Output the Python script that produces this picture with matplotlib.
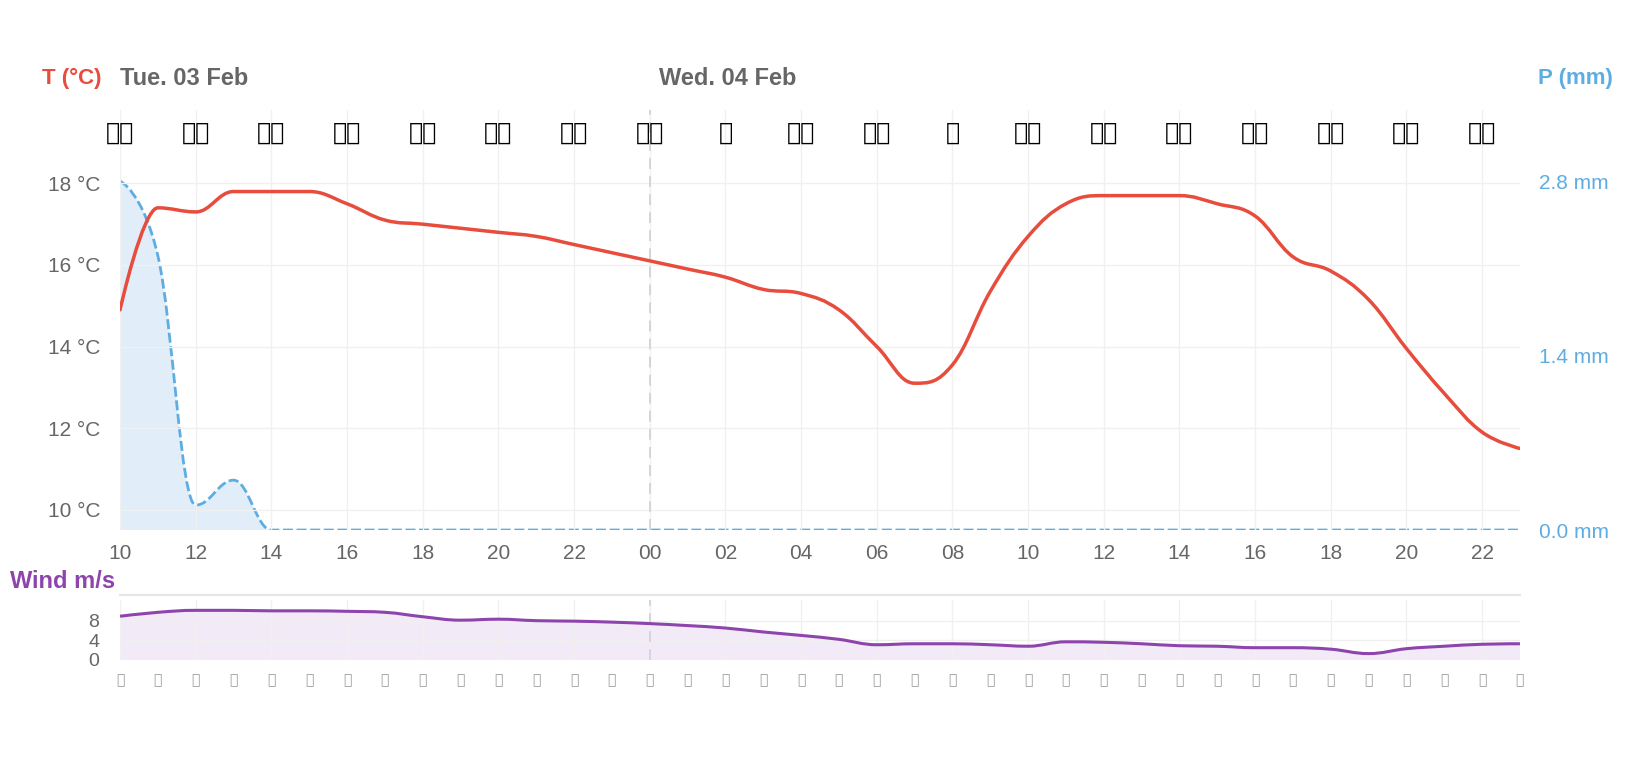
import numpy as np
import matplotlib.pyplot as plt
import matplotlib.transforms as mtransforms
from matplotlib.path import Path
from matplotlib.patches import PathPatch

plt.rcParams['font.family'] = ['Liberation Sans', 'DejaVu Sans']

# hourly data, Tue 10:00 -> Wed 23:00
hours = list(range(10, 24)) + list(range(0, 24))
temperature = [14.9, 17.4, 17.3, 17.8, 17.8, 17.8, 17.5, 17.1, 17.0, 16.9, 16.8, 16.7, 16.5, 16.3,
               16.1, 15.9, 15.7, 15.4, 15.3, 14.9, 14.0, 13.1, 13.55, 15.35, 16.7, 17.5, 17.7, 17.7,
               17.7, 17.5, 17.2, 16.2, 15.85, 15.15, 13.95, 12.85, 11.9, 11.5]
precipitation = [2.8, 2.2, 0.2, 0.4, 0.0, 0.0, 0.0, 0.0, 0.0, 0.0, 0.0, 0.0, 0.0, 0.0,
                 0.0, 0.0, 0.0, 0.0, 0.0, 0.0, 0.0, 0.0, 0.0, 0.0, 0.0, 0.0, 0.0, 0.0,
                 0.0, 0.0, 0.0, 0.0, 0.0, 0.0, 0.0, 0.0, 0.0, 0.0]
wind_speed = [8.9, 9.7, 10.1, 10.1, 10.0, 10.0, 9.9, 9.7, 8.8, 8.1, 8.3, 8.0, 7.9, 7.7,
              7.4, 7.0, 6.5, 5.7, 5.0, 4.2, 3.1, 3.3, 3.3, 3.1, 2.8, 3.7, 3.6, 3.3,
              2.9, 2.8, 2.5, 2.5, 2.2, 1.3, 2.3, 2.8, 3.2, 3.3]
# weather symbols every 2 hours (emoji, no installed font has them)
weather_icons = ['🌧🌧', '🌦🌧', '🌦🌧', '⛅🌦', '🌥🌥', '🌥🌥', '🌥🌥', '🌥🌥', '🌙', '🌥🌥',
                 '🌥🌥', '🌙', '🌤🌤', '🌤🌤', '🌤🌤', '🌤🌤', '🌥🌥', '🌥🌥', '🌥🌥']
# wind direction arrows, one per hour
wind_dirs = ['🡓'] * 38
day_labels = ['Tue. 03 Feb', 'Wed. 04 Feb']
day_starts = [0, 14]

x = np.arange(len(hours))

RED = '#E74C3C'
BLUE = '#5DADE2'
PURPLE = '#8E44AD'
GRID = '#f0f0f0'
LABEL = '#666666'


def spline_path(xs, ys, base=None, smoothing=1.5):
    # highcharts-like spline, drawn as cubic bezier segments
    n = len(xs)
    left, right = [None] * n, [None] * n
    for i in range(n):
        px, py = xs[i], ys[i]
        if i == 0 or i == n - 1:
            left[i] = right[i] = (px, py)
            continue
        lx, ly = xs[i - 1], ys[i - 1]
        nx, ny = xs[i + 1], ys[i + 1]
        d = smoothing + 1
        lcx, lcy = (smoothing * px + lx) / d, (smoothing * py + ly) / d
        rcx, rcy = (smoothing * px + nx) / d, (smoothing * py + ny) / d
        corr = (rcy - lcy) * (rcx - px) / (rcx - lcx) + py - rcy
        lcy += corr
        rcy += corr
        if lcy > ly and lcy > py:
            lcy = max(ly, py); rcy = 2 * py - lcy
        elif lcy < ly and lcy < py:
            lcy = min(ly, py); rcy = 2 * py - lcy
        if rcy > ny and rcy > py:
            rcy = max(ny, py); lcy = 2 * py - rcy
        elif rcy < ny and rcy < py:
            rcy = min(ny, py); lcy = 2 * py - rcy
        left[i], right[i] = (lcx, lcy), (rcx, rcy)
    verts = [(xs[0], ys[0])]
    codes = [Path.MOVETO]
    for i in range(1, n):
        verts += [right[i - 1], left[i], (xs[i], ys[i])]
        codes += [Path.CURVE4] * 3
    if base is not None:
        verts += [(xs[-1], base), (xs[0], base), (xs[0], ys[0])]
        codes += [Path.LINETO, Path.LINETO, Path.CLOSEPOLY]
    return Path(verts, codes)


fig = plt.figure(figsize=(16.4, 7.6), dpi=100)
ax = fig.add_axes([0.0732, 0.3026, 0.8536, 0.5527])
ax2 = ax.twinx()
ax.set_zorder(ax2.get_zorder() + 1)
ax.patch.set_visible(False)

# precipitation (right axis)
ax2.add_patch(PathPatch(spline_path(x, precipitation, base=0), facecolor='#e1eef9',
                        edgecolor='none', zorder=1))
ax2.add_patch(PathPatch(spline_path(x, precipitation), facecolor='none', edgecolor=BLUE,
                        lw=2.0, linestyle=(0, (3.6, 1.3)), zorder=2))
ax2.set_ylim(0, 3.37)
ax2.set_yticks([0, 1.4, 2.8])
ax2.set_yticklabels(['0.0 mm', '1.4 mm', '2.8 mm'])
ax2.tick_params(axis='y', length=0, pad=14, labelsize=15, labelcolor=BLUE)

# temperature (left axis)
ax.add_patch(PathPatch(spline_path(x, temperature), facecolor='none', edgecolor=RED,
                       lw=2.5, capstyle='round', joinstyle='round', zorder=3))
ax.set_xlim(0, len(hours) - 1)
ax.set_ylim(9.5, 19.8)
ax.set_yticks([10, 12, 14, 16, 18])
ax.set_yticklabels([f'{v} °C' for v in [10, 12, 14, 16, 18]])
ax.set_xticks(x[::2])
ax.set_xticklabels([f'{h:02d}' for h in hours[::2]])
ax.tick_params(axis='y', length=0, pad=14, labelsize=15, labelcolor=LABEL)
ax.tick_params(axis='x', length=0, pad=10, labelsize=15, labelcolor=LABEL)
ax.grid(True, color=GRID, lw=1)
ax.axvline(day_starts[1], color='#d0d3d8', lw=1.3, ls=(0, (6, 4)), zorder=2)

for a in (ax, ax2):
    for s in a.spines.values():
        s.set_visible(False)

# weather symbols row
icon_tr = mtransforms.blended_transform_factory(ax.transData, ax.transAxes)
for xi, icon in zip(x[::2], weather_icons):
    ax.text(xi, 0.945, icon, transform=icon_tr, ha='center', va='center',
            fontsize=17, color='black', family='DejaVu Sans')

# headers
head_tr = mtransforms.blended_transform_factory(ax.transData, fig.transFigure)
fig.text(0.0616, 0.8967, 'T (°C)', color=RED, fontsize=16, fontweight='bold',
         ha='right', va='center')
for ds, lab in zip(day_starts, day_labels):
    off = 0 if ds == 0 else 9 / 100
    tr = head_tr + mtransforms.ScaledTranslation(off, 0, fig.dpi_scale_trans)
    fig.text(ds, 0.8967, lab, transform=tr, color=LABEL, fontsize=17,
             fontweight='bold', ha='left', va='center')
fig.text(0.9835, 0.8967, 'P (mm)', color=BLUE, fontsize=16, fontweight='bold',
         ha='right', va='center')

# wind panel
axw = fig.add_axes([0.0732, 0.1316, 0.8536, 0.0789])
axw.add_patch(PathPatch(spline_path(x, wind_speed, base=0), facecolor='#f2eaf6',
                        edgecolor='none', zorder=1))
axw.add_patch(PathPatch(spline_path(x, wind_speed), facecolor='none', edgecolor=PURPLE,
                        lw=2.2, zorder=3))
axw.set_xlim(0, len(hours) - 1)
axw.set_ylim(0, 12.2)
axw.set_yticks([0, 4, 8])
axw.set_xticks(x[::2])
axw.set_xticklabels([])
axw.tick_params(axis='y', length=0, pad=15, labelsize=14, labelcolor=LABEL)
axw.tick_params(axis='x', length=0)
axw.grid(True, color=GRID, lw=1)
axw.axhline(0, color='#e6e6e6', lw=1, zorder=0)
axw.axvline(day_starts[1], color='#d0d3d8', lw=1.3, ls=(0, (6, 4)), zorder=2)
for s in axw.spines.values():
    s.set_visible(False)
fig.add_artist(plt.Line2D([0.0732, 0.9268], [1 - 595 / 760] * 2, color='#e6e6e6', lw=1.6))
fig.text(10 / 1640, 1 - 581.5 / 760, 'Wind m/s', color=PURPLE, fontsize=17,
         fontweight='bold', ha='left', va='center')

arrow_tr = mtransforms.blended_transform_factory(axw.transData, axw.transAxes)
for xi, arrow in zip(x, wind_dirs):
    axw.text(xi, -0.33, arrow, transform=arrow_tr, ha='center', va='center',
             fontsize=10, color='#999999', family='DejaVu Sans')

fig.savefig('out.png', dpi=100)
